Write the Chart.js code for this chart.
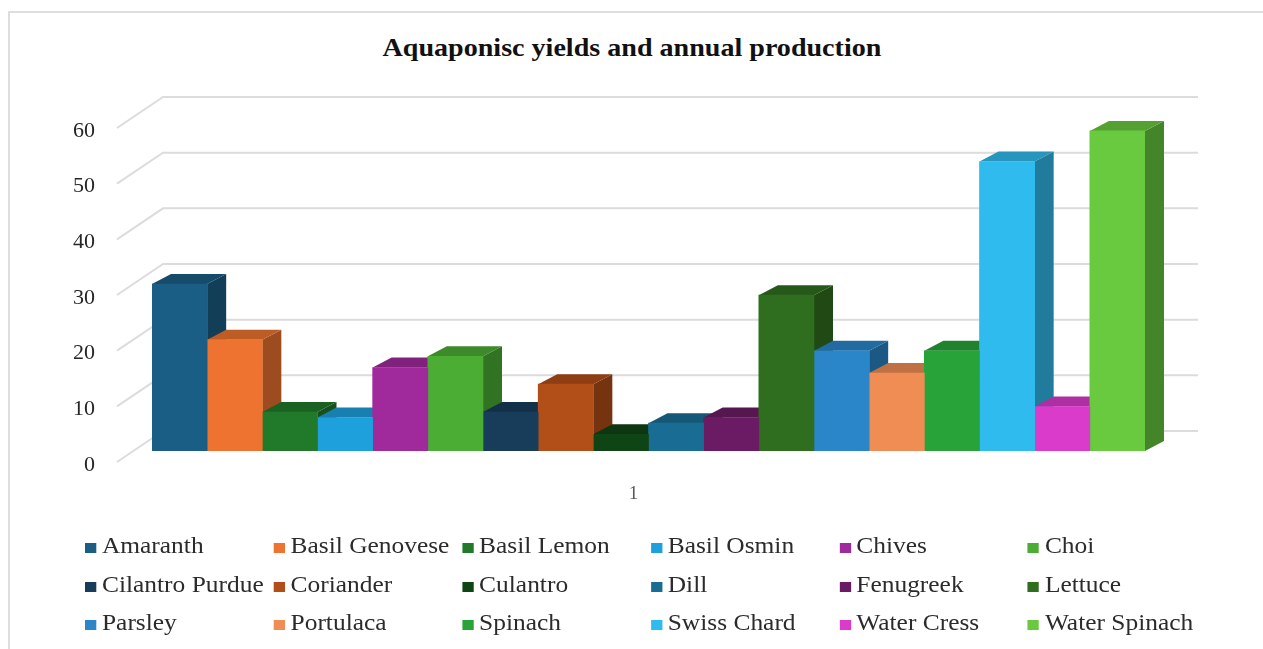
<!DOCTYPE html>
<html>
<head>
<meta charset="utf-8">
<script src="https://cdn.jsdelivr.net/npm/chart.js@4.4.0/dist/chart.umd.min.js"></script>
<style>
    html, body { margin: 0; padding: 0; background: #fff; }
    #wrap { position: relative; width: 1263px; height: 649px; overflow: hidden; background: #fff; }
    #frame { position: absolute; left: 8px; top: 11px; right: -10px; bottom: -10px;
             border-left: 2px solid #dedede; border-top: 2px solid #dedede; }
    #title { position: absolute; left: 0; top: 35px; width: 1263px; text-align: center;
             font: bold 26px/26px "Liberation Serif", serif; color: #111; }
    #title span { display: inline-block; transform: scaleX(1.08); }
    canvas { position: absolute; left: 0; top: 0; }
    #legend { position: absolute; left: 85px; top: 527px; transform: scaleX(1.13); transform-origin: 0 0;
              display: grid; grid-template-columns: repeat(6, 166.9px); grid-auto-rows: 38.5px;
              font: 22.5px/38.5px "Liberation Serif", serif; color: #2b2b2b; }
    .item { white-space: nowrap; }
    .box { display: inline-block; width: 10px; height: 10px; margin-right: 5px; vertical-align: 0px; }
</style>
</head>
<body>
<div id="wrap">
    <div id="frame"></div>
    <div id="title"><span>Aquaponisc yields and annual production</span></div>
    <canvas id="chart" width="1263" height="649"></canvas>
    <div id="legend"></div>
</div>
<script>
    // chart data
    const categories = ['1'];
    const seriesNames = ['Amaranth', 'Basil Genovese', 'Basil Lemon', 'Basil Osmin', 'Chives', 'Choi',
        'Cilantro Purdue', 'Coriander', 'Culantro', 'Dill', 'Fenugreek', 'Lettuce',
        'Parsley', 'Portulaca', 'Spinach', 'Swiss Chard', 'Water Cress', 'Water Spinach'];
    const seriesValues = [30, 20, 7, 6, 15, 17, 7, 12, 3, 5, 6, 28, 18, 14, 18, 52, 8, 57.5];
    const yTicks = [0, 10, 20, 30, 40, 50, 60];

    const seriesColors = ['#1b5e85', '#ee7330', '#217a2a', '#1ea0dc', '#a0299c', '#4cad35',
        '#173d5a', '#b24e17', '#0f4515', '#196d94', '#6b1b63', '#306e1f',
        '#2a86c8', '#ef8d55', '#28a33a', '#30bbee', '#da3bcb', '#69c93f'];

    const depth = { dx: 19, dy: 10 };

    function shade(hex, f) {
        const n = parseInt(hex.slice(1), 16);
        const r = Math.round(((n >> 16) & 255) * f);
        const g = Math.round(((n >> 8) & 255) * f);
        const b = Math.round((n & 255) * f);
        return `rgb(${r}, ${g}, ${b})`;
    }

    function fillPoly(ctx, pts, color) {
        ctx.beginPath();
        ctx.moveTo(pts[0][0], pts[0][1]);
        for (let i = 1; i < pts.length; i++) ctx.lineTo(pts[i][0], pts[i][1]);
        ctx.closePath();
        ctx.fillStyle = color;
        ctx.fill();
    }

    // back wall grid lines and bar sides/tops, painted under the bar fronts
    const pseudo3d = {
        id: 'pseudo3d',
        beforeDatasetsDraw(chart) {
            const ctx = chart.ctx;
            const area = chart.chartArea;
            const yScale = chart.scales.y;

            ctx.save();
            ctx.strokeStyle = '#dcdcdc';
            ctx.lineWidth = 2;
            yTicks.forEach(v => {
                const py = yScale.getPixelForValue(v);
                ctx.beginPath();
                ctx.moveTo(area.left - 35, py + 11);
                ctx.lineTo(area.left + 11, py - 20);
                ctx.lineTo(area.right + 53, py - 20);
                ctx.stroke();
            });

            chart.data.datasets.forEach((ds, i) => {
                const meta = chart.getDatasetMeta(i);
                meta.data.forEach(bar => {
                    const { x, y, base, width } = bar.getProps(['x', 'y', 'base', 'width'], true);
                    const l = x - width / 2, r = x + width / 2;
                    fillPoly(ctx, [[r, y], [r + depth.dx, y - depth.dy], [r + depth.dx, base - depth.dy], [r, base]],
                        shade(ds.backgroundColor, 0.66));
                    fillPoly(ctx, [[l, y], [l + depth.dx, y - depth.dy], [r + depth.dx, y - depth.dy], [r, y]],
                        shade(ds.backgroundColor, 0.8));
                });
            });
            ctx.restore();
        }
    };

    const datasets = seriesNames.map((name, i) => ({
        label: name,
        data: [seriesValues[i]],
        backgroundColor: seriesColors[i],
        borderWidth: 0,
        categoryPercentage: 1,
        barPercentage: 1
    }));

    new Chart(document.getElementById('chart'), {
        type: 'bar',
        data: { labels: categories, datasets: datasets },
        options: {
            responsive: false,
            animation: false,
            layout: { padding: { left: 0, top: 117, right: 118, bottom: 0 } },
            plugins: {
                legend: { display: false },
                title: { display: false },
                tooltip: { enabled: false }
            },
            scales: {
                x: {
                    grid: { display: false, drawTicks: false },
                    border: { display: false },
                    ticks: { padding: 32, labelOffset: -15, color: '#595959',
                        font: { family: "'Liberation Serif', serif", size: 19 } },
                    afterFit: s => { s.height = 198; }
                },
                y: {
                    min: 0,
                    max: 60,
                    grid: { display: false, drawTicks: false },
                    border: { display: false },
                    afterBuildTicks: s => { s.ticks = yTicks.map(v => ({ value: v })); },
                    ticks: { padding: 57, labelOffset: 14, color: '#262626',
                        font: { family: "'Liberation Serif', serif", size: 22 } },
                    afterFit: s => { s.width = 152; }
                }
            }
        },
        plugins: [pseudo3d]
    });

    // legend in an Excel-like fixed grid
    const legend = document.getElementById('legend');
    seriesNames.forEach((name, i) => {
        const item = document.createElement('div');
        item.className = 'item';
        item.innerHTML = `<span class="box" style="background:${seriesColors[i]}"></span>${name}`;
        legend.appendChild(item);
    });
</script>
</body>
</html>
